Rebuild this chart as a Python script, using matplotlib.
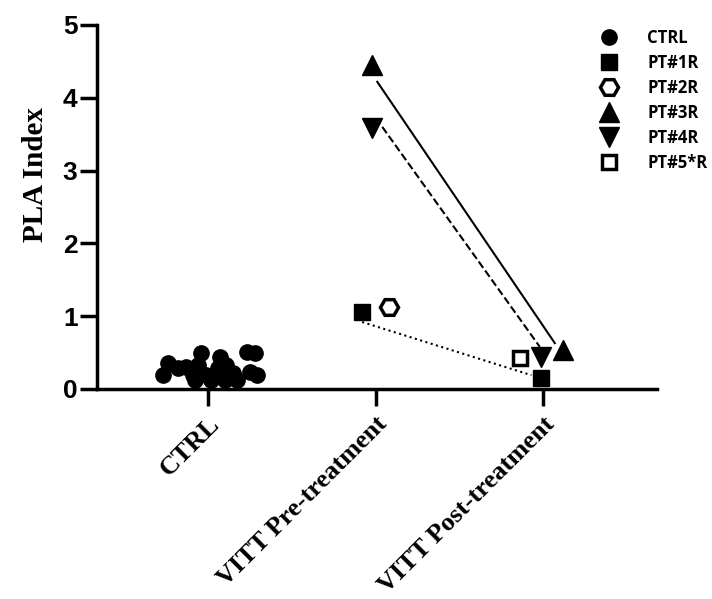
import matplotlib.pyplot as plt

groups = ["CTRL", "VITT Pre-treatment", "VITT Post-treatment"]

# control cloud (x is position around group 0, y is PLA index)
ctrl_x = [-0.27, -0.24, -0.18, -0.13, -0.09, -0.04, -0.06, -0.08, -0.01, 0.02,
          0.07, 0.06, 0.11, 0.10, 0.15, 0.17, 0.23, 0.28, 0.25, 0.29]
ctrl_y = [0.19, 0.36, 0.29, 0.30, 0.19, 0.49, 0.33, 0.12, 0.19, 0.12,
          0.44, 0.29, 0.33, 0.12, 0.22, 0.12, 0.51, 0.49, 0.23, 0.19]

patients = ["PT#1R", "PT#2R", "PT#3R", "PT#4R", "PT#5*R"]
pre_x = [0.917, 1.08, 0.98, 0.98, None]
pre_y = [1.06, 1.12, 4.45, 3.58, None]
post_x = [1.99, None, 2.12, 1.99, 1.86]
post_y = [0.15, None, 0.54, 0.44, 0.43]

# connecting lines (pre -> post) for PT#1, PT#3, PT#4
link_x = {"PT#1R": [0.92, 1.93], "PT#3R": [1.01, 2.07], "PT#4R": [1.04, 1.98]}
link_y = {"PT#1R": [0.92, 0.19], "PT#3R": [4.22, 0.63], "PT#4R": [3.60, 0.58]}
link_style = {"PT#1R": ":", "PT#3R": "-", "PT#4R": "--"}

markers = {"PT#1R": "s", "PT#2R": "H", "PT#3R": "^", "PT#4R": "v", "PT#5*R": "s"}
msizes = {"PT#1R": 11, "PT#2R": 13, "PT#3R": 14, "PT#4R": 14, "PT#5*R": 10}
filled = {"PT#1R": True, "PT#2R": False, "PT#3R": True, "PT#4R": True, "PT#5*R": False}

fig = plt.figure(figsize=(7.12, 5.99), dpi=100)
ax = fig.add_axes([97 / 712, 1 - 389 / 599, 560 / 712, 364 / 599])

for p in link_x:
    ax.plot(link_x[p], link_y[p], color="black", lw=1.5, ls=link_style[p])

handles = []
h, = ax.plot(ctrl_x, ctrl_y, "o", color="black", ms=11, ls="none", label="CTRL")
handles.append(h)

for i, p in enumerate(patients):
    xs = [v for v in (pre_x[i], post_x[i]) if v is not None]
    ys = [v for v in (pre_y[i], post_y[i]) if v is not None]
    mfc = "black" if filled[p] else "white"
    h, = ax.plot(xs, ys, markers[p], ls="none", ms=msizes[p], mfc=mfc,
                 mec="black", mew=2.5 if not filled[p] else 1, label=p)
    handles.append(h)

ax.set_xlim(-0.663, 2.68)
ax.set_ylim(0, 5)
ax.set_yticks([0, 1, 2, 3, 4, 5])
ax.set_xticks([0, 1, 2])
ax.set_xticklabels(groups, rotation=45, ha="right", va="top", rotation_mode="anchor",
                   fontfamily="Liberation Serif", fontweight="bold", fontsize=19)
for lab in ax.get_yticklabels():
    lab.set_fontfamily("Liberation Sans")
    lab.set_fontweight("bold")
    lab.set_fontsize(19)

ax.set_ylabel("PLA Index", fontfamily="Liberation Serif", fontweight="bold", fontsize=21)
ax.yaxis.set_label_coords(-0.085, 0.59)

for side in ["top", "right"]:
    ax.spines[side].set_visible(False)
for side in ["left", "bottom"]:
    ax.spines[side].set_linewidth(2.5)
ax.tick_params(axis="both", width=2.5, length=12, pad=2)
ax.tick_params(axis="x", pad=5)

fig.legend(handles=handles, loc="upper left", bbox_to_anchor=(584 / 712, 1 - 14 / 599),
           frameon=False, prop={"family": "Open Sans", "weight": "bold", "size": 12},
           handletextpad=1.7, labelspacing=0.42, handlelength=1.2, markerscale=1.0)

fig.savefig("out.png", dpi=100)
